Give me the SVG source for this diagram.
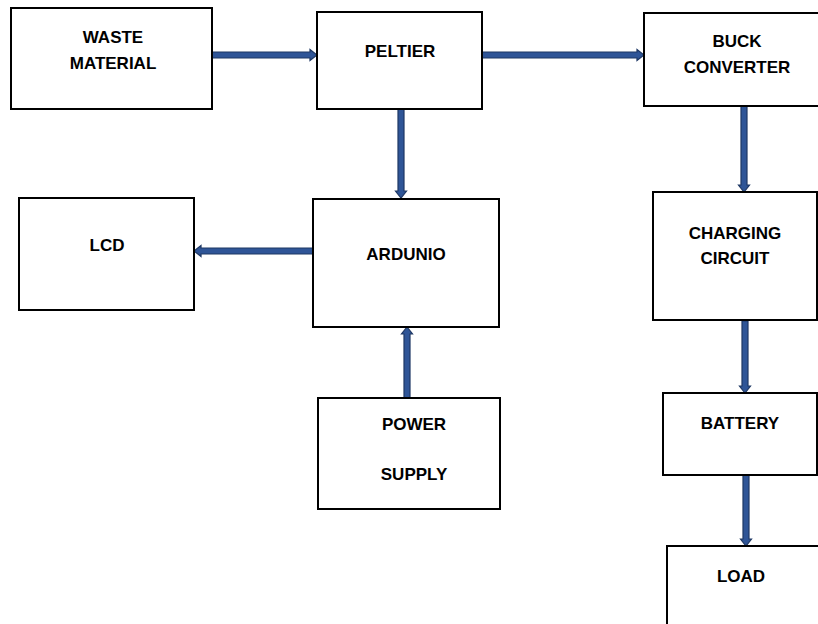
<svg xmlns="http://www.w3.org/2000/svg" width="818" height="624" viewBox="0 0 818 624">
<style>
.box{fill:#fff;stroke:#000;stroke-width:2}
.lbl{font-family:"Liberation Sans",Arial,sans-serif;font-weight:bold;font-size:17px;fill:#000;text-anchor:middle}
.arr{fill:#2f5597;stroke:#1f3864;stroke-width:1.2;stroke-linejoin:miter}
</style>
<rect width="818" height="624" fill="#fff"/>
<g id="connectors">
<polygon class="arr" points="212,52 310,52 310,49.5 317,55 310,60.5 310,58 212,58"/>
<polygon class="arr" points="482,52 637,52 637,49.5 644,55 637,60.5 637,58 482,58"/>
<polygon class="arr" points="398,109 404,109 404,191 406.5,191 401,198 395.5,191 398,191"/>
<polygon class="arr" points="313,248 201,248 201,245.5 194,251 201,256.5 201,254 313,254"/>
<polygon class="arr" points="404,398 410,398 410,334 412.5,334 407,327 401.5,334 404,334"/>
<polygon class="arr" points="741,106 747,106 747,185 749.5,185 744,192 738.5,185 741,185"/>
<polygon class="arr" points="742,321 748,321 748,386 750.5,386 745,393 739.5,386 742,386"/>
<polygon class="arr" points="743,475 749,475 749,539 751.5,539 746,546 740.5,539 743,539"/>
</g>
<g id="waste"><rect class="box" x="11" y="8" width="201" height="101"/><text class="lbl" x="113" y="43">WASTE</text><text class="lbl" x="113" y="69">MATERIAL</text></g>
<g id="peltier"><rect class="box" x="317" y="12" width="165" height="97"/><text class="lbl" x="400" y="57">PELTIER</text></g>
<g id="buck"><rect class="box" x="644" y="13" width="180" height="93"/><text class="lbl" x="737" y="47">BUCK</text><text class="lbl" x="737" y="73">CONVERTER</text></g>
<g id="lcd"><rect class="box" x="19" y="198" width="175" height="112"/><text class="lbl" x="107" y="251">LCD</text></g>
<g id="ardunio"><rect class="box" x="313" y="199" width="186" height="128"/><text class="lbl" x="406" y="260">ARDUNIO</text></g>
<g id="power"><rect class="box" x="318" y="398" width="182" height="111"/><text class="lbl" x="414" y="430">POWER</text><text class="lbl" x="414" y="480">SUPPLY</text></g>
<g id="charging"><rect class="box" x="653" y="192" width="164" height="128"/><text class="lbl" x="735" y="239">CHARGING</text><text class="lbl" x="735" y="264">CIRCUIT</text></g>
<g id="battery"><rect class="box" x="663" y="393" width="154" height="82"/><text class="lbl" x="740" y="429">BATTERY</text></g>
<g id="load"><rect class="box" x="667" y="546" width="160" height="90"/><text class="lbl" x="741" y="582">LOAD</text></g>
</svg>
